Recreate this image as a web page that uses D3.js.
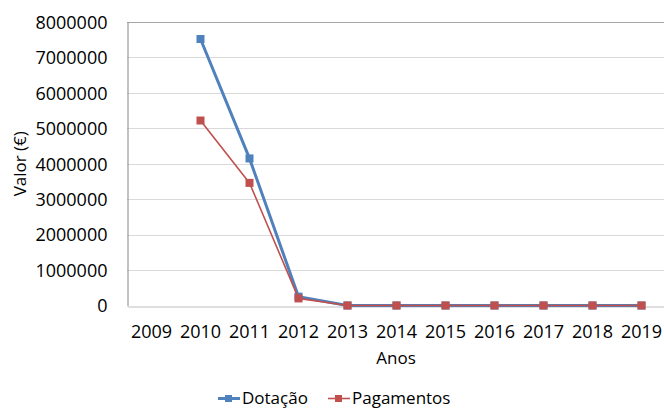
<!DOCTYPE html>
<html>
<head>
<meta charset="utf-8">
<script src="https://cdn.jsdelivr.net/npm/d3@7"></script>
<style>
  body { margin: 0; background: #fff; }
  svg text { font-family: "Open Sans", "Liberation Sans", sans-serif; fill: #000; }
</style>
</head>
<body>
<svg id="chart" width="664" height="408"></svg>
<script>
// Annual figures (€)
const years = ["2009", "2010", "2011", "2012", "2013", "2014", "2015", "2016", "2017", "2018", "2019"];
const dotacao = [null, 7520000, 4150000, 250000, 0, 0, 0, 0, 0, 0, 0];
const pagamentos = [null, 5220000, 3460000, 200000, 0, 0, 0, 0, 0, 0, 0];
const yTicks = [0, 1000000, 2000000, 3000000, 4000000, 5000000, 6000000, 7000000, 8000000];

const series = [
  { name: "Dotação", values: dotacao, color: "#4F81BD", width: 3 },
  { name: "Pagamentos", values: pagamentos, color: "#C0504D", width: 1.6 }
];

const svg = d3.select("#chart");
const plot = { left: 127, right: 666, top: 22, bottom: 305.5 };

const x = d3.scaleBand().domain(years).range([plot.left, plot.right]);
const y = d3.scaleLinear().domain([0, 8000000]).range([plot.bottom, plot.top]);

// horizontal gridlines
svg.append("g").selectAll("line").data(yTicks.filter(d => d > 0)).join("line")
  .attr("x1", plot.left).attr("x2", plot.right)
  .attr("y1", d => Math.round(y(d)) + 0.5).attr("y2", d => Math.round(y(d)) + 0.5)
  .attr("stroke", d => d === 8000000 ? "#a6a6a6" : "#d9d9d9").attr("stroke-width", 1);

// value axis
const yAxis = svg.append("g").attr("transform", `translate(${plot.left + 0.5},0)`)
  .call(d3.axisLeft(y).tickValues(yTicks).tickSize(0).tickPadding(20).tickFormat(d3.format("d")));
yAxis.select(".domain").attr("stroke", "#868686");
yAxis.selectAll("text").attr("font-size", 18).attr("dy", "0.35em");

// category axis
const xAxis = svg.append("g").attr("transform", `translate(0,${Math.round(plot.bottom) + 0.5})`)
  .call(d3.axisBottom(x).tickSize(0).tickPadding(19));
xAxis.select(".domain").attr("stroke", "#bfbfbf");
xAxis.selectAll("text").attr("font-size", 18);

// axis titles
svg.append("text").attr("transform", `translate(26,${(plot.top + plot.bottom) / 2}) rotate(-90)`)
  .attr("text-anchor", "middle").attr("font-size", 17).text("Valor (€)");
svg.append("text").attr("x", 396).attr("y", 364).attr("text-anchor", "middle")
  .attr("font-size", 17).text("Anos");

// series lines and markers
const line = d3.line()
  .defined(d => d.v !== null)
  .x(d => x(d.year) + x.bandwidth() / 2)
  .y(d => y(d.v));

series.forEach(s => {
  const pts = years.map((yr, i) => ({ year: yr, v: s.values[i] }));
  svg.append("path").datum(pts).attr("d", line)
    .attr("fill", "none").attr("stroke", s.color).attr("stroke-width", s.width)
    .attr("stroke-linejoin", "round");
  svg.append("g").selectAll("rect").data(pts.filter(d => d.v !== null)).join("rect")
    .attr("x", d => x(d.year) + x.bandwidth() / 2 - 4)
    .attr("y", d => y(d.v) - 4)
    .attr("width", 8).attr("height", 8)
    .attr("fill", s.color);
});

// legend
const legend = svg.append("g");
const legendItems = [
  { s: series[0], x0: 218, tx: 242 },
  { s: series[1], x0: 328, tx: 352 }
];
legendItems.forEach(it => {
  legend.append("line").attr("x1", it.x0).attr("x2", it.x0 + 22)
    .attr("y1", 398.5).attr("y2", 398.5)
    .attr("stroke", it.s.color).attr("stroke-width", it.s.width);
  legend.append("rect").attr("x", it.x0 + 7).attr("y", 395).attr("width", 7).attr("height", 7)
    .attr("fill", it.s.color);
  legend.append("text").attr("x", it.tx).attr("y", 398.5).attr("dy", "0.35em")
    .attr("font-size", 17).text(it.s.name);
});
</script>
</body>
</html>
